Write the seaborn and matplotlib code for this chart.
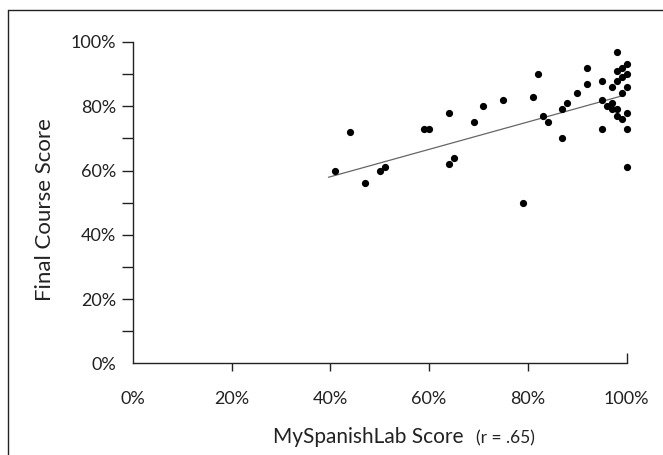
import matplotlib
matplotlib.use("Agg")
import matplotlib.pyplot as plt
from matplotlib.lines import Line2D
import pandas as pd
import seaborn as sns

# MySpanishLab score (x) vs final course score (y), in percent
lab_score = [41, 44, 47, 50, 51, 59, 60, 64, 64, 65, 69, 71, 75, 79, 81, 82, 83, 84, 87, 87, 88, 90, 92, 92,
             95, 95, 95, 96, 97, 97, 97, 98, 98, 98, 98, 98, 99, 99, 99, 99, 100, 100, 100, 100, 100, 100]
course_score = [60, 72, 56, 60, 61, 73, 73, 78, 62, 64, 75, 80, 82, 50, 83, 90, 77, 75, 79, 70, 81, 84, 92, 87,
                88, 82, 73, 80, 81, 79, 86, 97, 91, 88, 79, 77, 92, 89, 84, 76, 93, 90, 86, 78, 73, 61]
# trend line as drawn in the original
trend_x = [39.6, 99]
trend_y = [57.9, 83.2]
tick_vals = [0, 20, 40, 60, 80, 100]
tick_labels = ["0%", "20%", "40%", "60%", "80%", "100%"]
minor_y = [10, 30, 50, 70, 90]

df = pd.DataFrame({"lab": lab_score, "course": course_score})
trend = pd.DataFrame({"lab": trend_x, "course": trend_y})

sns.set_style("ticks")
plt.rcParams["font.family"] = ["Lato", "DejaVu Sans"]
ink = "#222222"

fig = plt.figure(figsize=(6.63, 4.55), dpi=100)
ax = fig.add_axes([0.2006, 0.2015, 0.7444, 0.7062])

sns.lineplot(data=trend, x="lab", y="course", ax=ax, color="#666666", lw=0.9)
sns.scatterplot(data=df, x="lab", y="course", ax=ax, s=27, color="black",
                linewidth=0, zorder=3, clip_on=False)

ax.set_xlim(0, 100)
ax.set_ylim(0, 100)
sns.despine(ax=ax)
for s in ["left", "bottom"]:
    ax.spines[s].set_color(ink)
    ax.spines[s].set_linewidth(1.0)

ax.set_xticks(tick_vals)
ax.set_xticklabels(tick_labels)
ax.set_yticks(tick_vals)
ax.set_yticklabels(tick_labels)
ax.set_yticks(minor_y, minor=True)
ax.set_xticks([100], minor=True)
ax.xaxis.remove_overlapping_locs = False

ax.tick_params(axis="y", which="both", direction="out", length=8, width=1.0, color=ink,
               labelsize=13, labelcolor=ink, pad=4)
ax.tick_params(axis="x", which="major", direction="out", length=6, width=1.0, color=ink,
               labelsize=13, labelcolor=ink, pad=14)
ax.tick_params(axis="x", which="minor", direction="in", length=7, width=1.0, color=ink)

# no tick marks at the axis ends
ax.xaxis.get_major_ticks()[0].tick1line.set_visible(False)
ax.xaxis.get_major_ticks()[-1].tick1line.set_visible(False)
ax.yaxis.get_major_ticks()[0].tick1line.set_visible(False)

ax.set_xlabel("")
ax.set_ylabel("Final Course Score", fontsize=16, color=ink)
ax.yaxis.set_label_coords(-0.158, 0.48)

fig.text(273 / 663, 1 - 437 / 455, "MySpanishLab Score", fontsize=15, color=ink,
         ha="left", va="center")
fig.text(476 / 663, 1 - 438 / 455, "(r = .65)", fontsize=12.5, color=ink,
         ha="left", va="center")

# frame around the figure (left and top edges visible)
fig.add_artist(Line2D([8 / 663, 8 / 663], [0, 1 - 10 / 455], color=ink, lw=1.0))
fig.add_artist(Line2D([8 / 663, 1], [1 - 10 / 455, 1 - 10 / 455], color=ink, lw=1.0))

fig.savefig("out.png", dpi=100)
